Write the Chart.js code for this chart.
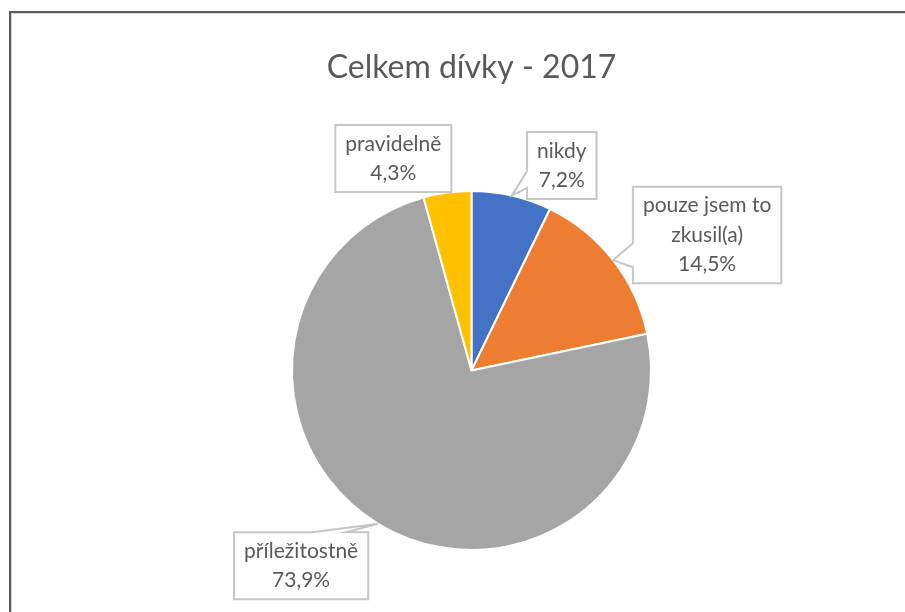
<!DOCTYPE html>
<html>
<head>
<meta charset="utf-8">
<script src="https://cdn.jsdelivr.net/npm/chart.js@4"></script>
<style>
  html, body { margin: 0; padding: 0; background: #fff; }
  #wrap { position: relative; width: 905px; height: 612px; overflow: hidden; }
  #frame {
    position: absolute; left: 9px; top: 11px; right: -10px; bottom: -10px;
    border-top: 2px solid #5b5b5b; border-left: 2px solid #5b5b5b;
    box-shadow: inset 1px 1px 0 #d6d6d6; pointer-events: none;
  }
</style>
</head>
<body>
<div id="wrap">
  <canvas id="chart" width="905" height="612"></canvas>
  <div id="frame"></div>
</div>
<script>
const chartTitle = 'Celkem dívky - 2017';
const categories = ['nikdy', 'pouze jsem to zkusil(a)', 'příležitostně', 'pravidelně'];
const shares = [7.2, 14.5, 73.9, 4.3];
const sliceColors = ['#4472C4', '#ED7D31', '#A5A5A5', '#FFC000'];

// callout box centre, measured from the slice's outer midpoint
const calloutOffsets = [[50, -30], [94, -25], [-77, 42], [-54, -34]];

const labelFont = '21px Lato';
const padX = 10, padY = 4, lineH = 29.5;

function pct(v) {
  return v.toFixed(1).replace('.', ',') + '%';
}

function wrap(ctx, text, maxW) {
  const words = text.split(' ');
  const lines = [];
  let cur = '';
  words.forEach(w => {
    const test = cur ? cur + ' ' + w : w;
    if (cur && ctx.measureText(test).width > maxW) {
      lines.push(cur);
      cur = w;
    } else {
      cur = test;
    }
  });
  if (cur) lines.push(cur);
  return lines;
}

// rectangle with a wedge pointing at (tx, ty), office-callout style
function calloutPath(ctx, b, tx, ty) {
  const w = b.r - b.l, h = b.b - b.t;
  const dx = (tx - (b.l + b.r) / 2) / w;
  const dy = (ty - (b.t + b.b) / 2) / h;
  const near = tx > b.l - 5 && tx < b.r + 5 && ty > b.t - 5 && ty < b.b + 5;
  const horiz = Math.abs(dx) > Math.abs(dy);
  ctx.beginPath();
  ctx.moveTo(b.l, b.t);
  if (!near && !horiz && dy < 0) {
    ctx.lineTo(b.l + w * 7 / 12, b.t);
    ctx.lineTo(tx, ty);
    ctx.lineTo(b.l + w * 10 / 12, b.t);
  }
  ctx.lineTo(b.r, b.t);
  if (!near && horiz && dx > 0) {
    ctx.lineTo(b.r, b.t + h * 7 / 12);
    ctx.lineTo(tx, ty);
    ctx.lineTo(b.r, b.t + h * 10 / 12);
  }
  ctx.lineTo(b.r, b.b);
  if (!near && !horiz && dy > 0) {
    ctx.lineTo(b.l + w * 10 / 12, b.b);
    ctx.lineTo(tx, ty);
    ctx.lineTo(b.l + w * 7 / 12, b.b);
  }
  ctx.lineTo(b.l, b.b);
  if (!near && horiz && dx < 0) {
    ctx.lineTo(b.l, b.t + h * 10 / 12);
    ctx.lineTo(tx, ty);
    ctx.lineTo(b.l, b.t + h * 7 / 12);
  }
  ctx.closePath();
}

const callouts = {
  id: 'callouts',
  afterDatasetsDraw(chart) {
    const ctx = chart.ctx;
    const meta = chart.getDatasetMeta(0);
    ctx.save();
    ctx.font = labelFont;
    meta.data.forEach((arc, i) => {
      const mid = (arc.startAngle + arc.endAngle) / 2;
      const tx = arc.x + Math.cos(mid) * arc.outerRadius;
      const ty = arc.y + Math.sin(mid) * arc.outerRadius;
      const lines = wrap(ctx, categories[i], 145).concat(pct(shares[i]));
      const w = Math.max(...lines.map(l => ctx.measureText(l).width)) + 2 * padX;
      const h = lines.length * lineH + 2 * padY;
      const cx = tx + calloutOffsets[i][0];
      const cy = ty + calloutOffsets[i][1];
      const box = { l: cx - w / 2, t: cy - h / 2, r: cx + w / 2, b: cy + h / 2 };

      calloutPath(ctx, box, tx, ty);
      ctx.fillStyle = '#fff';
      ctx.fill();
      ctx.strokeStyle = '#c6c6c6';
      ctx.lineWidth = 2;
      ctx.stroke();

      ctx.fillStyle = '#595959';
      ctx.textAlign = 'center';
      ctx.textBaseline = 'middle';
      lines.forEach((l, k) => ctx.fillText(l, cx, box.t + padY + lineH * (k + 0.5)));
    });
    ctx.restore();
  }
};

new Chart(document.getElementById('chart'), {
  type: 'pie',
  data: {
    labels: categories,
    datasets: [{
      data: shares,
      backgroundColor: sliceColors,
      borderColor: '#fff',
      borderWidth: 2
    }]
  },
  options: {
    responsive: false,
    animation: false,
    layout: { padding: { top: 10, left: 291, right: 253, bottom: 61 } },
    plugins: {
      legend: { display: false },
      tooltip: { enabled: false },
      title: {
        display: true,
        text: chartTitle,
        color: '#595959',
        font: { family: 'Lato', size: 32, weight: 'normal' },
        padding: { top: 38, bottom: 103.5 }
      }
    }
  },
  plugins: [callouts]
});
</script>
</body>
</html>
